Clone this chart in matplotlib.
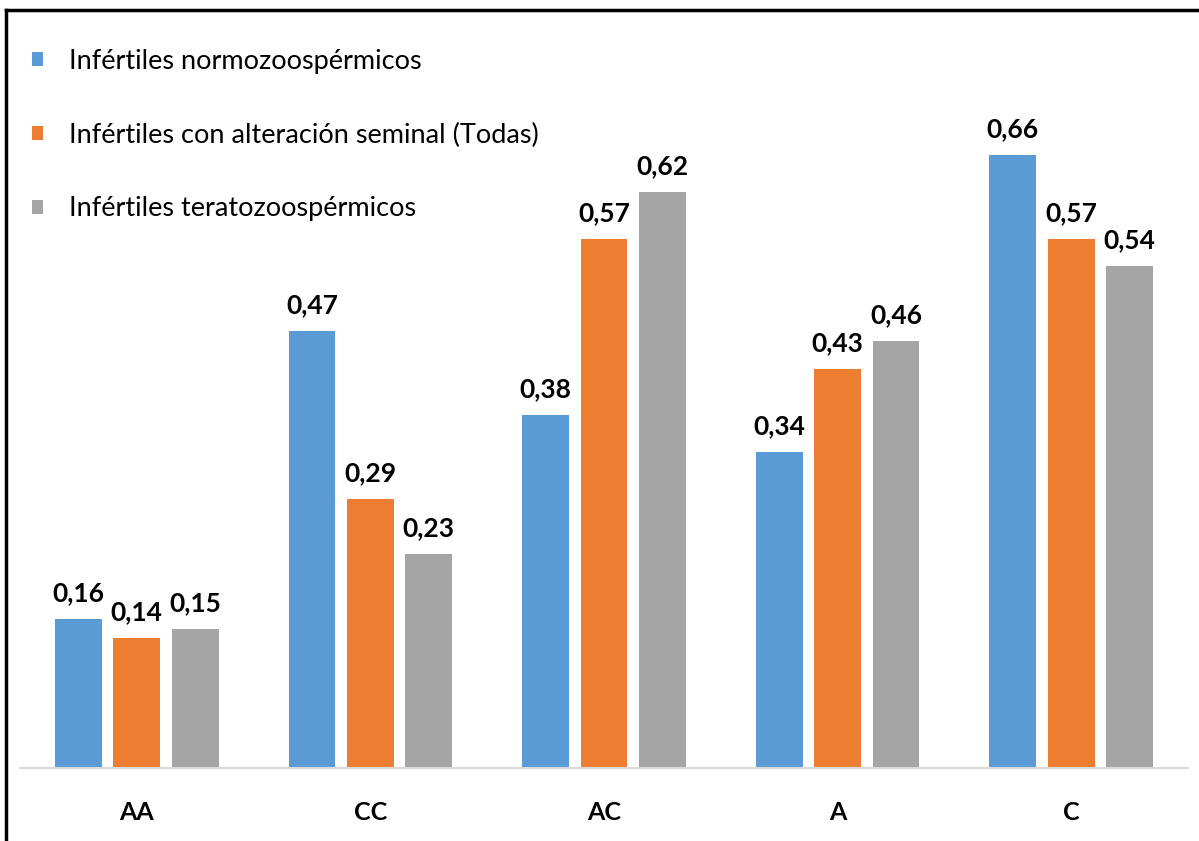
import matplotlib.pyplot as plt
from matplotlib.lines import Line2D

categories = ["AA", "CC", "AC", "A", "C"]
series_names = [
    "Infértiles normozoospérmicos",
    "Infértiles con alteración seminal (Todas)",
    "Infértiles teratozoospérmicos",
]
normo = [0.16, 0.47, 0.38, 0.34, 0.66]
todas = [0.14, 0.29, 0.57, 0.43, 0.57]
terato = [0.15, 0.23, 0.62, 0.46, 0.54]
colors = ["#5B9BD5", "#ED7D31", "#A5A5A5"]

W, H = 1199, 841
plt.rcParams["font.family"] = ["Lato", "DejaVu Sans"]

fig = plt.figure(figsize=(W / 100, H / 100), dpi=100)
ax = fig.add_axes([20 / W, (H - 768) / H, 1168 / W, 743 / H])

x = list(range(len(categories)))
width = 0.2
step = 0.25
for i, vals in enumerate([normo, todas, terato]):
    pos = [xi + (i - 1) * step for xi in x]
    bars = ax.bar(pos, vals, width=width, color=colors[i], label=series_names[i])
    for b, v in zip(bars, vals):
        ax.annotate(f"{v:.2f}".replace(".", ","),
                    (b.get_x() + b.get_width() / 2, v),
                    xytext=(0, 10), textcoords="offset points",
                    ha="center", va="bottom", fontsize=19, fontweight="bold")

ax.set_xlim(-0.5, 4.5)
ax.set_ylim(0, 0.8)
ax.set_yticks([])
ax.set_xticks(x)
ax.set_xticklabels(categories, fontsize=18, fontweight="bold")
ax.tick_params(axis="x", length=0, pad=24)
for s in ["top", "right", "left"]:
    ax.spines[s].set_visible(False)
ax.spines["bottom"].set_color("#D9D9D9")
ax.spines["bottom"].set_linewidth(1.5)

ax.legend(loc="upper left", bbox_to_anchor=(21 / W, 1 - 38 / H),
          bbox_transform=fig.transFigure, frameon=False, fontsize=19.5,
          handlelength=0.42, handleheight=0.42, handletextpad=0.95,
          labelspacing=1.8, borderaxespad=0)

# outer frame lines (top and left)
fig.add_artist(Line2D([6 / W, 1], [1 - 10 / H, 1 - 10 / H], color="black", lw=2.5,
                      transform=fig.transFigure))
fig.add_artist(Line2D([6 / W, 6 / W], [0, 1 - 10 / H], color="black", lw=2.5,
                      transform=fig.transFigure))

fig.savefig("out.png", dpi=100)
